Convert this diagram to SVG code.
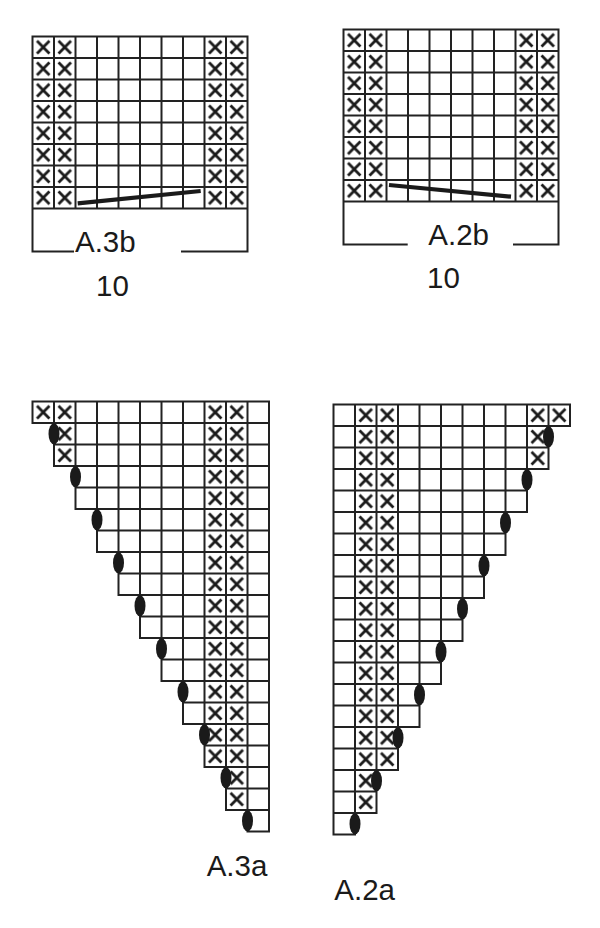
<svg xmlns="http://www.w3.org/2000/svg" xmlns:xlink="http://www.w3.org/1999/xlink" width="600" height="928" viewBox="0 0 600 928">
<defs>
<pattern id="xp" patternUnits="userSpaceOnUse" width="21.5" height="21.5">
<path d="M4.5,4.5L17,17M17,4.5L4.5,17" stroke="#1a1a1a" stroke-width="2.8" fill="none"/>
</pattern>
<style>
.grid{fill:none;stroke:#222;stroke-width:2;stroke-linecap:square}
.xs{fill:url(#xp);stroke:none}
.dec{fill:#1a1a1a}
.bar{stroke:#1a1a1a;stroke-width:4.2;fill:none}
.lbl{font-family:"Liberation Sans",Arial,sans-serif;font-size:29.5px;fill:#1a1a1a}
</style>
</defs>
<rect width="600" height="928" fill="#fff"/>

<g id="chart-A3b" transform="translate(32.5,36.5)">
<rect class="xs" x="0" y="0" width="43" height="172"/>
<rect class="xs" x="172" y="0" width="43" height="172"/>
<path class="grid" d="M0,0H215M0,21.5H215M0,43H215M0,64.5H215M0,86H215M0,107.5H215M0,129H215M0,150.5H215M0,172H215
M0,0V215M21.5,0V172M43,0V172M64.5,0V172M86,0V172M107.5,0V172M129,0V172M150.5,0V172M172,0V172M193.5,0V172M215,0V215
M0,215H40.5M149.5,215H215"/>
<path class="bar" d="M45.2,166.8L168.2,154.5"/>
</g>

<g id="chart-A2b" transform="translate(343.5,29.5)">
<rect class="xs" x="0" y="0" width="43" height="172"/>
<rect class="xs" x="172" y="0" width="43" height="172"/>
<path class="grid" d="M0,0H215M0,21.5H215M0,43H215M0,64.5H215M0,86H215M0,107.5H215M0,129H215M0,150.5H215M0,172H215
M0,0V215M21.5,0V172M43,0V172M64.5,0V172M86,0V172M107.5,0V172M129,0V172M150.5,0V172M172,0V172M193.5,0V172M215,0V215
M0,215H63.2M170.5,215H215"/>
<path class="bar" d="M45.5,155.5L167.5,167.2"/>
</g>

<g id="chart-A3a" transform="translate(32.5,401.5)">
<rect class="xs" x="0" y="0" width="43" height="21.5"/>
<rect class="xs" x="21.5" y="21.5" width="21.5" height="43"/>
<rect class="xs" x="172" y="0" width="21.5" height="365.5"/>
<rect class="xs" x="193.5" y="0" width="21.5" height="408.5"/>
<path class="grid" d="M0,0H236.5M0,21.5H236.5M21.5,43H236.5M21.5,64.5H236.5M43,86H236.5M43,107.5H236.5M64.5,129H236.5M64.5,150.5H236.5M86,172H236.5M86,193.5H236.5M107.5,215H236.5M107.5,236.5H236.5M129,258H236.5M129,279.5H236.5M150.5,301H236.5M150.5,322.5H236.5M172,344H236.5M172,365.5H236.5M193.5,387H236.5M193.5,408.5H236.5M215,430H236.5
M0,0V21.5M21.5,0V64.5M43,0V107.5M64.5,0V150.5M86,0V193.5M107.5,0V236.5M129,0V279.5M150.5,0V322.5M172,0V365.5M193.5,0V408.5M215,0V430M236.5,0V430"/>
<g class="dec">
<ellipse cx="21.5" cy="32.25" rx="5.5" ry="10.5"/>
<ellipse cx="43" cy="75.25" rx="5.5" ry="10.5"/>
<ellipse cx="64.5" cy="118.25" rx="5.5" ry="10.5"/>
<ellipse cx="86" cy="161.25" rx="5.5" ry="10.5"/>
<ellipse cx="107.5" cy="204.25" rx="5.5" ry="10.5"/>
<ellipse cx="129" cy="247.25" rx="5.5" ry="10.5"/>
<ellipse cx="150.5" cy="290.25" rx="5.5" ry="10.5"/>
<ellipse cx="172" cy="333.25" rx="5.5" ry="10.5"/>
<ellipse cx="193.5" cy="376.25" rx="5.5" ry="10.5"/>
<ellipse cx="215" cy="419.25" rx="5.5" ry="10.5"/>
</g>
</g>

<g id="chart-A2a" transform="translate(333.5,404.5)">
<rect class="xs" x="193.5" y="0" width="43" height="21.5"/>
<rect class="xs" x="193.5" y="21.5" width="21.5" height="43"/>
<rect class="xs" x="43" y="0" width="21.5" height="365.5"/>
<rect class="xs" x="21.5" y="0" width="21.5" height="408.5"/>
<path class="grid" d="M0,0H236.5M0,21.5H236.5M0,43H215M0,64.5H215M0,86H193.5M0,107.5H193.5M0,129H172M0,150.5H172M0,172H150.5M0,193.5H150.5M0,215H129M0,236.5H129M0,258H107.5M0,279.5H107.5M0,301H86M0,322.5H86M0,344H64.5M0,365.5H64.5M0,387H43M0,408.5H43M0,430H21.5
M0,0V430M21.5,0V430M43,0V408.5M64.5,0V365.5M86,0V322.5M107.5,0V279.5M129,0V236.5M150.5,0V193.5M172,0V150.5M193.5,0V107.5M215,0V64.5M236.5,0V21.5"/>
<g class="dec">
<ellipse cx="215" cy="32.25" rx="5.5" ry="10.5"/>
<ellipse cx="193.5" cy="75.25" rx="5.5" ry="10.5"/>
<ellipse cx="172" cy="118.25" rx="5.5" ry="10.5"/>
<ellipse cx="150.5" cy="161.25" rx="5.5" ry="10.5"/>
<ellipse cx="129" cy="204.25" rx="5.5" ry="10.5"/>
<ellipse cx="107.5" cy="247.25" rx="5.5" ry="10.5"/>
<ellipse cx="86" cy="290.25" rx="5.5" ry="10.5"/>
<ellipse cx="64.5" cy="333.25" rx="5.5" ry="10.5"/>
<ellipse cx="43" cy="376.25" rx="5.5" ry="10.5"/>
<ellipse cx="21.5" cy="419.25" rx="5.5" ry="10.5"/>
</g>
</g>

<g id="labels">
<text class="lbl" x="75" y="251.5">A.3b</text>
<text class="lbl" x="96" y="296">10</text>
<text class="lbl" x="428.3" y="245">A.2b</text>
<text class="lbl" x="427" y="288.3">10</text>
<text class="lbl" x="206.7" y="876">A.3a</text>
<text class="lbl" x="334.3" y="900">A.2a</text>
</g>
</svg>
